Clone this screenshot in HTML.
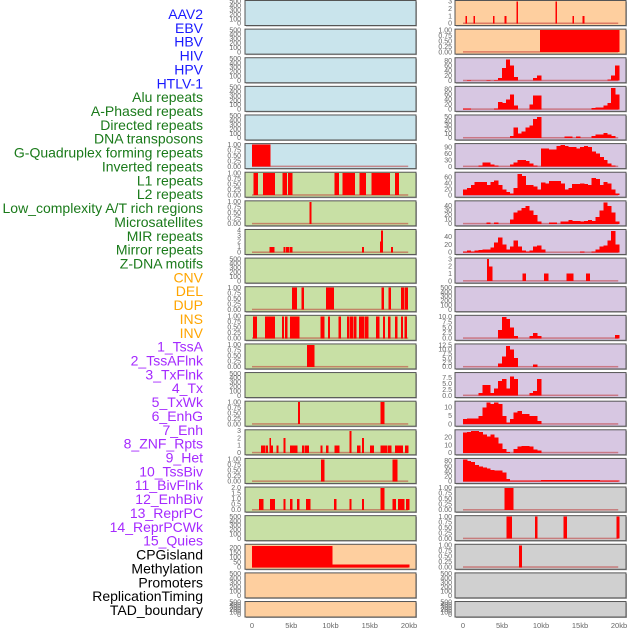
<!DOCTYPE html>
<html><head><meta charset="utf-8">
<style>
body{margin:0;background:#fff;width:630px;height:630px;overflow:hidden;font-family:"Liberation Sans",sans-serif}
#c{position:absolute;left:0;top:0}
</style></head>
<body>
<svg id="c" width="630" height="630" xmlns="http://www.w3.org/2000/svg"></svg>
<script>
const labels=["AAV2","EBV","HBV","HIV","HPV","HTLV-1","Alu repeats","A-Phased repeats","Directed repeats","DNA transposons","G-Quadruplex forming repeats","Inverted repeats","L1 repeats","L2 repeats","Low_complexity A/T rich regions","Microsatellites","MIR repeats","Mirror repeats","Z-DNA motifs","CNV","DEL","DUP","INS","INV","1_TssA","2_TssAFlnk","3_TxFlnk","4_Tx","5_TxWk","6_EnhG","7_Enh","8_ZNF_Rpts","9_Het","10_TssBiv","11_BivFlnk","12_EnhBiv","13_ReprPC","14_ReprPCWk","15_Quies","CPGisland","Methylation","Promoters","ReplicationTiming","TAD_boundary"];
const labelColors=["#1a1aff","#1a7a1a","#ffa500","#a52aff","#000"];
const labelGroup=[0,0,0,0,0,0,1,1,1,1,1,1,1,1,1,1,1,1,1,2,2,2,2,2,3,3,3,3,3,3,3,3,3,3,3,3,3,3,3,4,4,4,4,4];
const xTicks=[0,5,10,15,20];
const xTickLabels=["0","5kb","10kb","15kb","20kb"];
// bar data: [startKb,endKb,value]
const htlv=[[0,2.3,1]];
const alu=[[0.2,0.7,1],[1.4,2.9,1],[3.9,4.4,1],[4.6,5.1,1],[10.5,11.0,1],[11.5,13.1,1],[13.7,14.5,1],[15.2,17.5,1],[18.2,18.7,1]];
const aphased=[[7.3,7.5,1]];
const directed=[[2.2,2.8,1],[4.0,4.2,1],[4.3,4.7,1],[4.85,5.1,1],[14.0,14.2,1],[16.3,16.45,2],[16.45,16.65,4],[17.7,17.9,1]];
const gquad=[[5.1,5.7,1],[6.3,6.6,1],[9.4,10.4,1],[16.5,16.75,1],[17.4,17.65,1],[19.0,19.35,1],[19.5,19.8,1]];
const inverted=[[0.1,0.6,1],[1.65,1.9,1],[2.0,2.9,1],[3.8,4.05,1],[4.2,4.45,1],[4.85,6.0,1],[8.7,9.2,1],[9.7,9.9,1],[11.0,11.3,1],[12.1,12.4,1],[12.5,12.9,1],[13.0,13.25,1],[13.6,14.3,1],[14.4,14.8,1],[15.8,16.2,1],[16.7,16.9,1],[17.3,17.6,1],[18.2,18.5,1],[19.0,19.2,1],[19.4,19.7,1]];
const l2=[[7.0,7.9,1]];
const micro=[[5.85,6.05,1],[16.4,16.8,1]];
const mir=[[1.15,1.65,1],[1.8,2.0,1],[2.2,2.4,2],[2.4,2.6,1],[3.1,3.3,1],[4.0,4.2,2],[4.85,5.75,1],[6.4,6.6,1],[6.7,7.2,1],[8.7,8.9,1],[9.4,9.7,1],[10.5,11.1,1],[12.4,12.6,3],[13.4,13.8,1],[14.0,14.2,2],[15.0,15.5,1],[16.4,16.8,1],[16.9,17.2,1],[17.3,17.7,1],[18.2,18.6,1],[18.6,19.2,1],[19.5,19.9,1]];
const mirror=[[8.8,9.2,1],[17.9,18.5,1]];
const zdna=[[0.9,1.4,1],[2.3,2.55,1],[2.6,2.9,1],[4.0,4.2,1],[4.85,5.1,1],[5.75,6.0,1],[6.9,7.4,1],[10.45,10.7,1],[12.4,12.6,1],[14.0,14.2,1],[16.4,16.8,2],[17.9,18.3,1],[18.6,18.8,1],[18.85,19.4,1],[19.6,20.0,1]];
const cnv=[[0,10.2,220],[10.2,20,30]];
const ins=[[0.3,0.45,1],[1.35,1.5,1],[3.85,4.0,1],[5.35,5.5,1],[6.85,7.0,3],[11.85,12.0,3],[14.05,14.2,1],[15.35,15.5,1]];
const inv=[[9.9,20,1]];
const znf=[[3.1,3.3,3],[3.3,3.7,2],[7.6,8.0,1],[10.4,10.9,1],[13.3,14.1,1],[15.8,16.2,1]];
const cpg=[[5.3,6.4,1]];
const meth=[[5.6,6.2,1],[9.2,9.5,1],[12.9,13.3,1],[19.7,20,1]];
const prom=[[7.2,7.5,1]];
// profile data: values per 0.5kb bin
const tssA=[0,3,0,0,0,0,3,0,3,10,50,85,60,15,0,0,0,0,10,20,0,0,0,0,0,0,0,0,0,0,0,0,0,0,0,0,0,5,20,60];
const tssAFlnk=[3,3,0,0,0,0,0,0,3,30,25,40,60,15,0,0,0,20,55,55,0,0,0,0,0,0,0,0,0,0,0,0,0,5,8,8,15,25,85,60];
const txFlnk=[0,0,0,0,0,0,0,0,0,0,0,0,5,25,10,15,25,30,45,50,0,0,0,0,0,0,4,4,0,4,0,0,0,5,8,8,12,8,5,0];
const tx=[0,0,0,0,5,20,20,10,5,0,0,0,10,20,30,30,25,15,5,0,85,85,80,80,95,100,95,90,90,85,90,95,90,70,60,45,30,15,5,0];
const txWk=[20,25,35,45,45,45,35,45,50,35,20,10,5,25,72,65,35,35,30,20,42,40,48,48,48,40,20,25,38,38,40,38,35,58,55,35,45,40,20,5];
const enhG=[0,0,0,0,0,0,3,0,3,0,0,0,10,25,30,35,40,30,20,5,0,0,3,3,0,5,5,8,6,6,5,6,8,6,15,30,48,40,25,5];
const enh=[3,5,3,5,6,8,8,12,25,38,20,8,15,30,15,5,3,5,15,18,8,0,0,0,0,0,0,0,0,0,3,0,0,3,8,15,18,30,55,20];
const tssBiv=[0,0,0,0,0,0,0,0,0,4,10,9,5,1,0,0,0,1,2.5,1,0,0,0,0,0,0,0,0,0,0,0,0,0,0,0,0,0,0,0,1.5];
const bivFlnk=[0,0,0,0,0,0,0,0,0,2,6,12,10,5,0,0,0,0,1.5,0,0,0,0,0,0,0,0,0,0,0,0,0,0,0,0,0,0,0,0,0];
const enhBiv=[0,0,0,0,1,4.5,4.5,1,3,6,7,3,8,7,0,0,0,1,2,7,0,0,0,0,0,0,0,0,0,0,0,0,0,0,0,0,0,0,0,0];
const reprPC=[3,3.5,3.5,3.5,5,10,13,12,13,12,5,1,3,7,8,6,6,5,5,2,0,0,0,0,0,0,0,0,0,0,0,0,0,0,0,0,0,0,0,0];
const reprPCWk=[26,27,28,28,27,24,21,24,20,12,5,1,0,5,8,9,9,8,4,3,0,0,0,0,0,0,0,0,0,0,0,0,0,0,0,0,0,0,0,0];
const quies=[85,80,75,65,58,55,50,45,42,42,35,10,3,3,3,3,3,3,3,3,5,5,5,5,5,5,5,5,5,5,5,5,5,5,5,3,3,3,3,3];
const tk500=["0","100","200","300","400","500"],tkP=["0.00","0.25","0.50","0.75","1.00"];
const tkP2=[0,0.25,0.5,0.75,1],tkV500=[0,100,200,300,400,500];
const B="#c9e4ec",G="#c8e0a5",P="#fecf9f",L="#d7c7e2",Y="#d0d0d0";
const panels=[
[0,0,B,"e",null,500,tkV500,tk500],[0,1,B,"e",null,500,tkV500,tk500],[0,2,B,"e",null,500,tkV500,tk500],[0,3,B,"e",null,500,tkV500,tk500],[0,4,B,"e",null,500,tkV500,tk500],
[0,5,B,"b",htlv,1,tkP2,tkP],[0,6,G,"b",alu,1,tkP2,tkP],[0,7,G,"b",aphased,1,tkP2,tkP],[0,8,G,"b",directed,4,[0,1,2,3,4],["0","1","2","3","4"]],
[0,9,G,"e",null,500,tkV500,tk500],[0,10,G,"b",gquad,1,tkP2,tkP],[0,11,G,"b",inverted,1,tkP2,tkP],[0,12,G,"b",l2,1,tkP2,tkP],[0,13,G,"e",null,500,tkV500,tk500],
[0,14,G,"b",micro,1,tkP2,tkP],[0,15,G,"b",mir,3,[0,1,2,3],["0","1","2","3"]],[0,16,G,"b",mirror,1,tkP2,tkP],[0,17,G,"b",zdna,2,[0,0.5,1,1.5,2],["0.0","0.5","1.0","1.5","2.0"]],
[0,18,G,"e",null,500,tkV500,tk500],[0,19,P,"b",cnv,225,[0,50,100,150,200],["0","50","100","150","200"]],[0,20,P,"e",null,500,tkV500,tk500],[0,21,P,"e",null,500,tkV500,tk500],
[1,0,P,"b",ins,3,[0,1,2,3],["0","1","2","3"]],[1,1,P,"b",inv,1,tkP2,tkP],
[1,2,L,"p",tssA,88,[0,20,40,60,80],["0","20","40","60","80"]],[1,3,L,"p",tssAFlnk,88,[0,20,40,60,80],["0","20","40","60","80"]],
[1,4,L,"p",txFlnk,52,[0,10,20,30,40,50],["0","10","20","30","40","50"]],[1,5,L,"p",tx,102,[0,30,60,90],["0","30","60","90"]],
[1,6,L,"p",txWk,74,[0,20,40,60],["0","20","40","60"]],[1,7,L,"p",enhG,49,[0,10,20,30,40],["0","10","20","30","40"]],
[1,8,L,"p",enh,56,[0,20,40],["0","20","40"]],[1,9,L,"b",znf,3,[0,1,2,3],["0","1","2","3"]],[1,10,L,"e",null,500,tkV500,tk500],
[1,11,L,"p",tssBiv,10.3,[0,2.5,5,7.5,10],["0.0","2.5","5.0","7.5","10.0"]],[1,12,L,"p",bivFlnk,12.6,[0,2.5,5,7.5,10,12.5],["0.0","2.5","5.0","7.5","10.0","12.5"]],
[1,13,L,"p",enhBiv,9.2,[0,2.5,5,7.5],["0.0","2.5","5.0","7.5"]],[1,14,L,"p",reprPC,13.2,[0,5,10],["0","5","10"]],
[1,15,L,"p",reprPCWk,28.5,[0,10,20],["0","10","20"]],[1,16,L,"p",quies,86,[0,20,40,60,80],["0","20","40","60","80"]],
[1,17,Y,"b",cpg,1,tkP2,tkP],[1,18,Y,"b",meth,1,tkP2,tkP],[1,19,Y,"b",prom,1,tkP2,tkP],[1,20,Y,"e",null,500,tkV500,tk500],[1,21,Y,"e",null,500,tkV500,tk500]
];
const svg=document.getElementById('c');
const NS="http://www.w3.org/2000/svg";
function mk(t,a,p){const e=document.createElementNS(NS,t);for(const k in a)e.setAttribute(k,a[k]);(p||svg).appendChild(e);return e;}
labels.forEach((t,i)=>{
  const e=mk('text',{x:203,y:14+i*13.86+5,'text-anchor':'end','font-size':'14',fill:labelColors[labelGroup[i]]});
  e.textContent=t;
  
  
});
const colX=[245,455],colW=171;
const x0s=[252,463],kbs=[7.85,7.8];
panels.forEach((pp,idx)=>{
  const [col,row,bg,kind,data,ymax,tv,tl]=pp;
  const top=0.5+row*28.62,h=row==21?15.5:25;
  const g=mk('g',{});
  
  
  mk('rect',{x:colX[col]+1,y:top+1,width:colW,height:h,fill:'#aaa'},g);
  mk('rect',{x:colX[col],y:top,width:colW,height:h,fill:bg,stroke:'#555','stroke-width':1},g);
  const base=top+h-2,ytop=top+1;
  const sy=v=>base-(v/ymax)*(base-ytop);
  const sx=k=>x0s[col]+k*kbs[col];
  tv.forEach((v,i)=>{
    const t=mk('text',{x:col?452:241,y:sy(v)+2.2,'text-anchor':'end','font-size':'7',fill:'#666'},g);
    t.textContent=tl[i];
  });
  if(kind!=="e") mk('rect',{x:sx(0),y:base-1,width:sx(19.9)-sx(0),height:1.5,fill:'rgba(190,40,40,0.5)'},g);
  const bars=[];
  if(kind==="b") data.forEach(d=>bars.push(d));
  if(kind==="p") data.forEach((v,i)=>{if(v>0)bars.push([i*0.5,i*0.5+0.5,v]);});
  bars.forEach(d=>{
    const r=mk('rect',{x:sx(d[0]),y:sy(d[2]),width:Math.max(1.2,sx(d[1])-sx(d[0])+0.4),height:base-sy(d[2]),fill:'#ff0000','shape-rendering':'crispEdges'},g);
    
    
  });
});
[0,1].forEach(col=>{
  xTicks.forEach((k,i)=>{
    const t=mk('text',{x:x0s[col]+k*kbs[col],y:628,'text-anchor':'middle','font-size':'7.5',fill:'#666'});
    t.textContent=xTickLabels[i];
    
    
  });
});
</script>
</body></html>
